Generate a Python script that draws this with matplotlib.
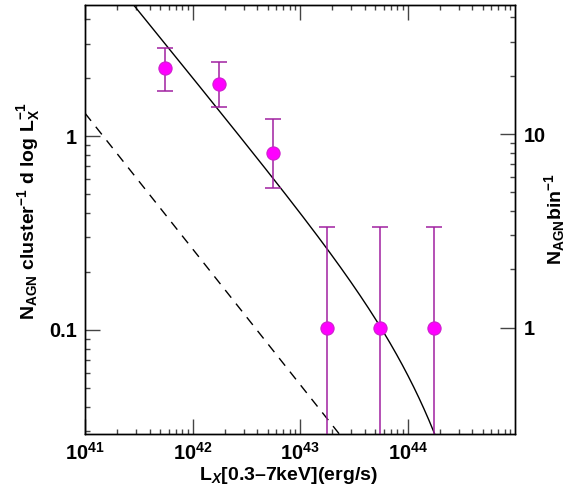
import numpy as np
import matplotlib
matplotlib.use('Agg')
import matplotlib.pyplot as plt
from matplotlib.ticker import FixedLocator, FixedFormatter, NullFormatter

plt.rcParams['font.family'] = 'Liberation Sans'
plt.rcParams['font.weight'] = 'bold'
plt.rcParams['axes.labelweight'] = 'bold'
plt.rcParams['mathtext.fontset'] = 'custom'
plt.rcParams['mathtext.rm'] = 'Liberation Sans:bold'
plt.rcParams['mathtext.bf'] = 'Liberation Sans:bold'
plt.rcParams['mathtext.it'] = 'Liberation Sans:bold:italic'
plt.rcParams['mathtext.default'] = 'bf'

# binned AGN luminosity function (left axis units)
lx_bins = [5.6e41, 1.78e42, 5.6e42, 1.78e43, 5.6e43, 1.78e44]
n_agn = [2.24, 1.85, 0.82, 0.1025, 0.1025, 0.1025]
n_hi = [2.85, 2.40, 1.23, 0.338, 0.338, 0.338]
n_lo = [1.70, 1.42, 0.537, 0.0177, 0.0177, 0.0177]

# per-bin count scale (right axis = left / scale)
bin_scale = 0.1025

# model curves: power law with exponential cutoff, plain power law
fit_norm, fit_slope, fit_cut = 2.01, 0.683, 10**44.41
ref_norm, ref_slope = 0.262, 0.70

xlim = (1e41, 1e45)
ylim = (0.029, 4.75)

fig = plt.figure(figsize=(5.74, 4.94), dpi=100)
ax = fig.add_axes([85/574, 60/494, 430/574, 429/494])

L = np.logspace(41, 45, 600)
ax.plot(L, fit_norm*(L/1e42)**(-fit_slope)*np.exp(-L/fit_cut), color='black', lw=1)
ax.plot(L, ref_norm*(L/1e42)**(-ref_slope), color='black', lw=1, dashes=(7, 5.5))

y = np.array(n_agn)
yerr = [y - np.array(n_lo), np.array(n_hi) - y]
ax.errorbar(lx_bins, n_agn, yerr=yerr, fmt='none', ecolor='#a020a0', elinewidth=1.1,
            capsize=5.5, capthick=1.1, zorder=3)
ax.plot(lx_bins, n_agn, 'o', ms=9.5, mfc='#ff00ff', mec='#cc22cc', mew=0.8, zorder=4)

ax.set_xscale('log')
ax.set_yscale('log')
ax.set_xlim(*xlim)
ax.set_ylim(*ylim)

xmaj = [1e41, 1e42, 1e43, 1e44]
xlab = [r'$10^{41}$', r'$10^{42}$', r'$10^{43}$', r'$10^{44}$']
xmin = [m*10.0**d for d in range(41, 45) for m in range(2, 10)]
ax.xaxis.set_major_locator(FixedLocator(xmaj))
ax.xaxis.set_major_formatter(FixedFormatter(xlab))
ax.xaxis.set_minor_locator(FixedLocator(xmin))
ax.xaxis.set_minor_formatter(NullFormatter())

ymaj = [0.1, 1]
ymin = [0.03, 0.04, 0.05, 0.06, 0.07, 0.08, 0.09,
        0.2, 0.3, 0.4, 0.5, 0.6, 0.7, 0.8, 0.9, 2, 3, 4]
ax.yaxis.set_major_locator(FixedLocator(ymaj))
ax.yaxis.set_major_formatter(FixedFormatter(['0.1', '1']))
ax.yaxis.set_minor_locator(FixedLocator(ymin))
ax.yaxis.set_minor_formatter(NullFormatter())

ax.tick_params(which='both', direction='in', top=True, right=False, width=1, color='#444444')
ax.tick_params(which='major', length=11, labelsize=14.4, pad=6)
ax.tick_params(which='minor', length=3.8)

ax2 = ax.twinx()
ax2.set_yscale('log')
ax2.set_ylim(ylim[0]/bin_scale, ylim[1]/bin_scale)
ax2.yaxis.set_major_locator(FixedLocator([1, 10]))
ax2.yaxis.set_major_formatter(FixedFormatter(['1', '10']))
ax2.yaxis.set_minor_locator(FixedLocator([2, 3, 4, 5, 6, 7, 8, 9, 20, 30, 40]))
ax2.yaxis.set_minor_formatter(NullFormatter())
ax2.tick_params(which='both', direction='in', width=1, color='#444444')
ax2.tick_params(which='major', length=11, labelsize=14.4, pad=6)
ax2.tick_params(which='minor', length=3.8)

for a in (ax, ax2):
    for s in a.spines.values():
        s.set_linewidth(1)
        s.set_color('black')

ax.set_xlabel(r'L$_{\mathit{X}}$[0.3–7keV](erg/s)', fontsize=14, fontweight='bold')
ax.xaxis.set_label_coords(0.472, -0.072)
ax.set_ylabel(r'N$_{AGN}$ cluster$^{-1}$ d log L$_{X}^{-1}$', fontsize=14, fontweight='bold')
ax.yaxis.set_label_coords(-0.1, 0.52)
ax2.set_ylabel(r'N$_{AGN}$bin$^{-1}$', fontsize=14, fontweight='bold')
ax2.yaxis.set_label_coords(1.063, 0.5)

fig.savefig('out.png', dpi=100)
